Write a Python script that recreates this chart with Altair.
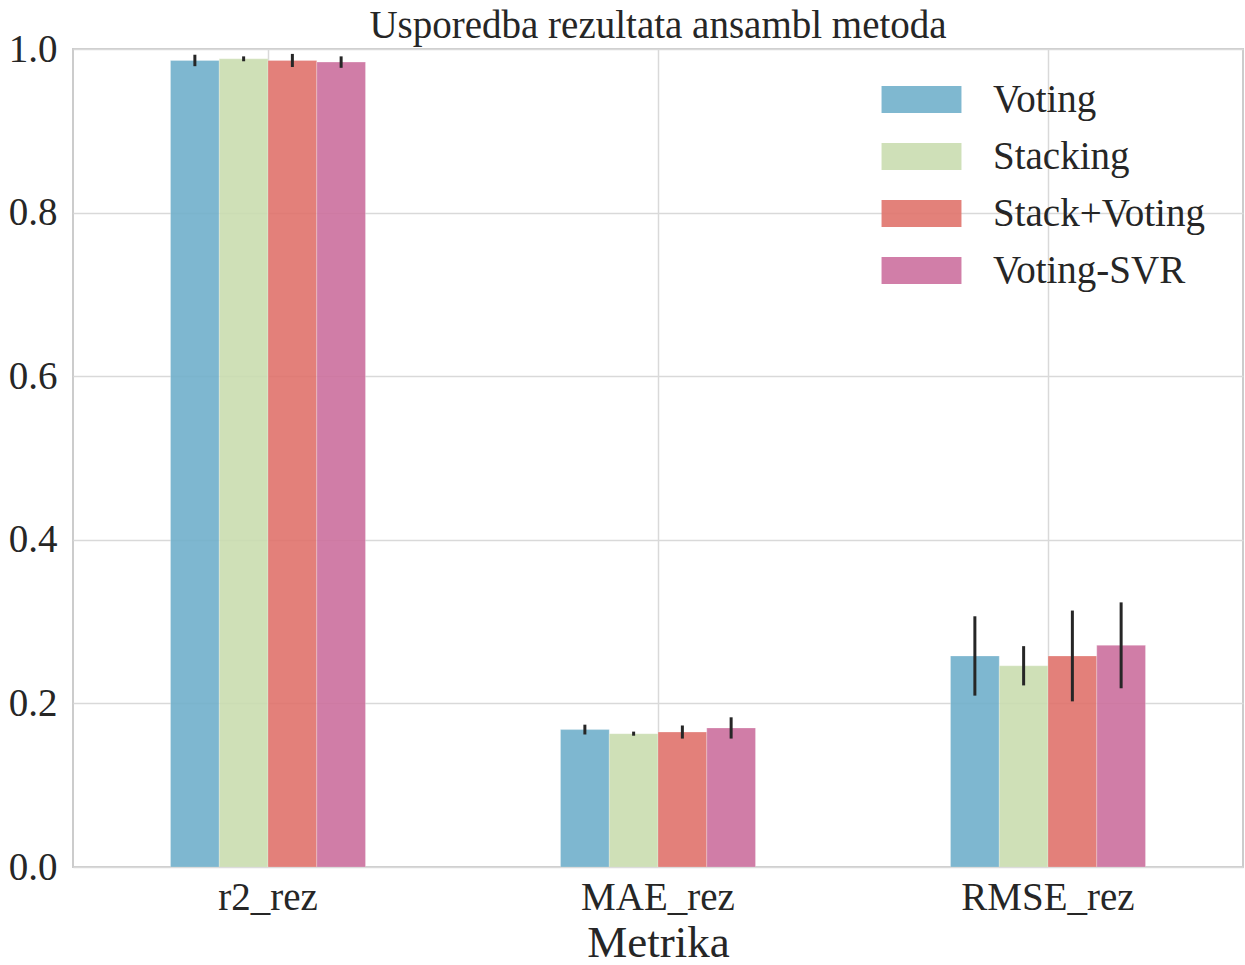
import altair as alt
import pandas as pd

# Metrics on the x axis and the ensemble methods compared within each group
metrics = ["r2_rez", "MAE_rez", "RMSE_rez"]
methods = ["Voting", "Stacking", "Stack+Voting", "Voting-SVR"]

# Mean score per metric for each method
voting = [0.986, 0.168, 0.258]
stacking = [0.988, 0.163, 0.246]
stack_voting = [0.986, 0.165, 0.258]
voting_svr = [0.984, 0.170, 0.271]

# Standard deviation per metric for each method (error bar half-length)
voting_err = [0.007, 0.006, 0.0485]
stacking_err = [0.003, 0.0025, 0.024]
stack_voting_err = [0.008, 0.008, 0.0555]
voting_svr_err = [0.007, 0.013, 0.0525]

colors = ["#71b0cb", "#caddb0", "#e0736c", "#cc709e"]

means = [voting, stacking, stack_voting, voting_svr]
errs = [voting_err, stacking_err, stack_voting_err, voting_svr_err]
rows = []
for method, m_vals, e_vals in zip(methods, means, errs):
    for metric, v, e in zip(metrics, m_vals, e_vals):
        rows.append({"Metrika": metric, "Metoda": method, "vrijednost": v, "std": e})
df = pd.DataFrame(rows)

FONT = "Liberation Serif"
TEXT = "#262626"

x_enc = alt.X(
    "Metrika:N",
    sort=metrics,
    scale=alt.Scale(paddingInner=0.5, paddingOuter=0.25),
    axis=alt.Axis(
        title="Metrika",
        labelAngle=0,
        ticks=False,
        domain=False,
        grid=True,
        labelPadding=11,
        titlePadding=3,
    ),
)
xoff_enc = alt.XOffset("Metoda:N", sort=methods, scale=alt.Scale(paddingInner=0, paddingOuter=0))

bars = alt.Chart(df).mark_bar(opacity=0.9, stroke="#ffffff", strokeOpacity=0.25, strokeWidth=1).encode(
    x=x_enc,
    xOffset=xoff_enc,
    y=alt.Y(
        "vrijednost:Q",
        scale=alt.Scale(domain=[0, 1], nice=False),
        axis=alt.Axis(
            title=None,
            values=[0, 0.2, 0.4, 0.6, 0.8, 1.0],
            format=".1f",
            ticks=False,
            domain=False,
            labelPadding=16,
        ),
    ),
    color=alt.Color(
        "Metoda:N",
        sort=methods,
        scale=alt.Scale(domain=methods, range=colors),
        legend=alt.Legend(
            title=None,
            orient="none",
            legendX=829,
            legendY=31,
            padding=0,
            symbolType="M-2.96,-1H2.96V1H-2.96Z",
            symbolSize=729,
            symbolOpacity=0.9,
            symbolStrokeWidth=0,
            labelOffset=52,
            labelLimit=500,
            rowPadding=17,
            labelFont=FONT,
            labelFontSize=39,
            labelColor=TEXT,
        ),
    ),
)

errorbars = alt.Chart(df).transform_calculate(
    lo="datum.vrijednost - datum.std",
    hi="datum.vrijednost + datum.std",
).mark_rule(color=TEXT, strokeWidth=3).encode(
    x=alt.X("Metrika:N", sort=metrics),
    xOffset=alt.XOffset("Metoda:N", sort=methods),
    y="lo:Q",
    y2="hi:Q",
)

chart = (
    alt.layer(bars, errorbars)
    .properties(
        width=1170,
        height=818,
        title=alt.TitleParams(
            "Usporedba rezultata ansambl metoda",
            anchor="middle",
            offset=12,
            dy=28,
        ),
        autosize=alt.AutoSizeParams(type="none"),
        padding={"left": 73, "top": 49, "right": 2, "bottom": 98},
        background="white",
    )
    .configure_view(stroke="#cccccc", strokeWidth=2)
    .configure_axis(
        labelFont=FONT,
        labelFontSize=39,
        labelColor=TEXT,
        titleFont=FONT,
        titleFontSize=45,
        titleColor=TEXT,
        titleFontWeight="normal",
        gridColor="#d9d9d9",
        gridWidth=1.5,
    )
    .configure_title(font=FONT, fontSize=39, color=TEXT, fontWeight="normal")
)

chart.save("out.html", embed_options={"renderer": "svg", "actions": False})
